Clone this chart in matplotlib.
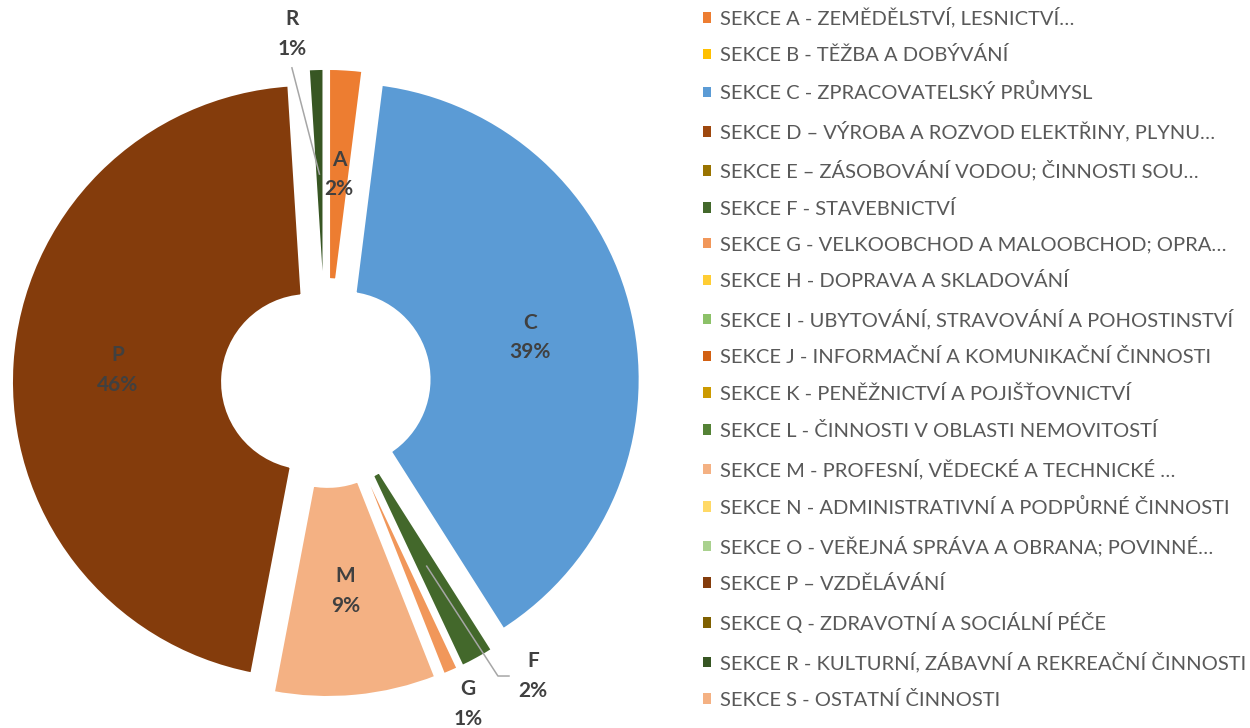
import numpy as np
import matplotlib.pyplot as plt
from matplotlib.patches import Patch

plt.rcParams['font.family'] = ['Lato', 'DejaVu Sans']

# Sections of the economy and their share of the total (%).
codes = list('ABCDEFGHIJKLMNOPQRS')
names = [
    'SEKCE A - ZEMĚDĚLSTVÍ, LESNICTVÍ…',
    'SEKCE B - TĚŽBA A DOBÝVÁNÍ',
    'SEKCE C - ZPRACOVATELSKÝ PRŮMYSL',
    'SEKCE D – VÝROBA A ROZVOD ELEKTŘINY, PLYNU…',
    'SEKCE E – ZÁSOBOVÁNÍ VODOU; ČINNOSTI SOU…',
    'SEKCE F - STAVEBNICTVÍ',
    'SEKCE G - VELKOOBCHOD A MALOOBCHOD; OPRA…',
    'SEKCE H - DOPRAVA A SKLADOVÁNÍ',
    'SEKCE I - UBYTOVÁNÍ, STRAVOVÁNÍ A POHOSTINSTVÍ',
    'SEKCE J - INFORMAČNÍ A KOMUNIKAČNÍ ČINNOSTI',
    'SEKCE K - PENĚŽNICTVÍ A POJIŠŤOVNICTVÍ',
    'SEKCE L - ČINNOSTI V OBLASTI NEMOVITOSTÍ',
    'SEKCE M - PROFESNÍ, VĚDECKÉ A TECHNICKÉ …',
    'SEKCE N - ADMINISTRATIVNÍ A PODPŮRNÉ ČINNOSTI',
    'SEKCE O - VEŘEJNÁ SPRÁVA A OBRANA; POVINNÉ…',
    'SEKCE P – VZDĚLÁVÁNÍ',
    'SEKCE Q - ZDRAVOTNÍ A SOCIÁLNÍ PÉČE',
    'SEKCE R - KULTURNÍ, ZÁBAVNÍ A REKREAČNÍ ČINNOSTI',
    'SEKCE S - OSTATNÍ ČINNOSTI',
]
shares = [2, 0, 39, 0, 0, 2, 1, 0, 0, 0, 0, 0, 9, 0, 0, 46, 0, 1, 0]
colors = ['#ED7D31', '#FFC000', '#5B9BD5', '#9E480E', '#997300', '#43682B',
          '#F1975A', '#FFCD33', '#8CC168', '#D26012', '#CC9A00', '#548235',
          '#F4B183', '#FFD966', '#A9D18E', '#843C0C', '#7F6000', '#375623',
          '#F4B183']

label_color = '#404040'
lim = 326 / 299

fig = plt.figure(figsize=(12.5, 7.28), dpi=100)
ax = fig.add_axes([0, 19 / 728, 652 / 1250, 652 / 728])

# only non-zero sections get a wedge, the legend lists all of them
shown = [i for i, v in enumerate(shares) if v > 0]
wedges, _ = ax.pie([shares[i] for i in shown],
                   colors=[colors[i] for i in shown],
                   explode=[0.057] * len(shown),
                   startangle=90, counterclock=False, radius=1,
                   wedgeprops=dict(width=0.716, edgecolor='white', linewidth=4.3))
ax.set_xlim(-lim, lim)
ax.set_ylim(-lim, lim)
ax.set_aspect('equal')


def mid_point(w, r=0.642):
    a = np.deg2rad((w.theta1 + w.theta2) / 2)
    cx, cy = w.center
    return cx + r * np.cos(a), cy + r * np.sin(a)


# small slices get their label outside the ring
outside = {'R': (-0.114, 1.167), 'F': (0.692, -0.980), 'G': (0.475, -1.074)}

for w, i in zip(wedges, shown):
    text = f'{codes[i]}\n{shares[i]}%'
    pos = outside.get(codes[i], mid_point(w))
    ax.text(pos[0], pos[1], text, ha='center', va='center', fontsize=15,
            fontweight='bold', color=label_color, linespacing=1.6)
    if codes[i] == 'R':
        x0, y0 = mid_point(w)
        ax.plot([pos[0], x0], [1.054, y0], color='#A6A6A6', lw=1.1)
    elif codes[i] == 'F':
        x0, y0 = mid_point(w)
        ax.plot([x0, 0.575, 0.612], [y0, -0.980, -0.980], color='#A6A6A6', lw=1.1)

handles = [Patch(facecolor=c, edgecolor='none') for c in colors]
fig.legend(handles, names, loc='upper left', bbox_to_anchor=(703 / 1250, 1 - 7 / 728),
           frameon=False, fontsize=14.5, labelcolor='#595959',
           handlelength=0.42, handleheight=0.42, handletextpad=0.42,
           labelspacing=0.93, borderpad=0, borderaxespad=0)

fig.savefig('out.png', dpi=100, facecolor='white')
